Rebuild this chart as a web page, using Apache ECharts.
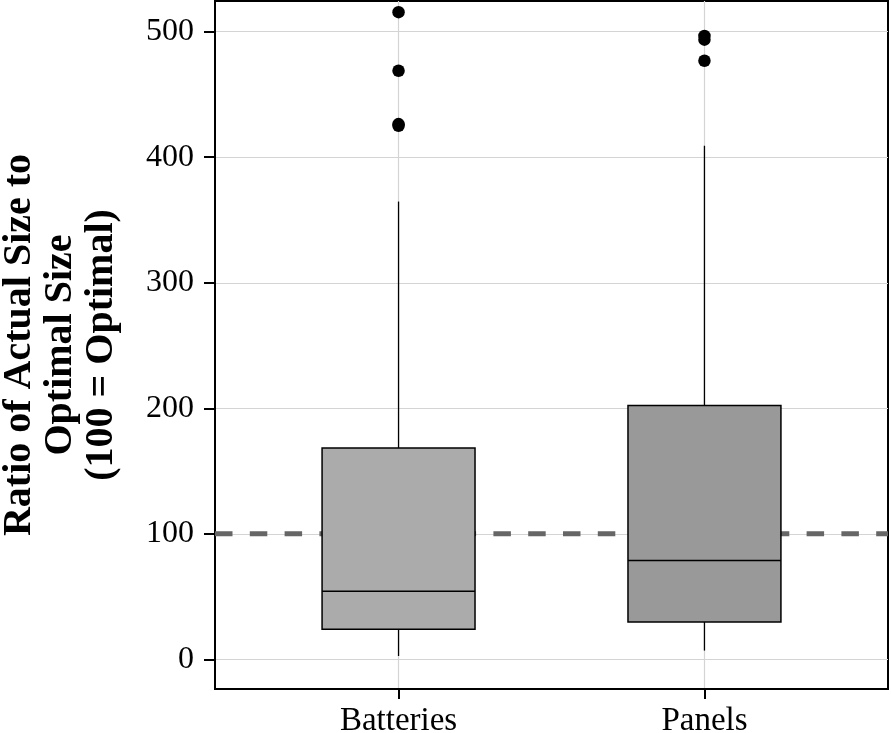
<!DOCTYPE html>
<html>
<head>
<meta charset="utf-8">
<script src="https://cdn.jsdelivr.net/npm/echarts@6/dist/echarts.min.js"></script>
<style>
  html, body { margin: 0; padding: 0; background: #fff; }
  #chart { width: 891px; height: 733px; }
</style>
</head>
<body>
<div id="chart"></div>
<script>
// ---- data ----
const categories = ['Batteries', 'Panels'];
const categoryPositions = [1, 2];
// [min, Q1, median, Q3, max] (whisker ends)
const batteriesStats = [2.6, 23.9, 54.2, 168.4, 364.7];
const panelsStats = [6.9, 29.7, 78.6, 202.1, 409.1];
const batteriesOutliers = [515.6, 468.9, 426.4, 425.0];
const panelsOutliers = [496.6, 493.7, 476.9];
const yTickValues = [0, 100, 200, 300, 400, 500];
const referenceValue = 100;
const boxColors = ['#ABABAB', '#999999'];

const statsList = [batteriesStats, panelsStats];
const boxData = statsList.map((s, i) => [categoryPositions[i]].concat(s));
const outlierData = [];
batteriesOutliers.forEach(v => outlierData.push([categoryPositions[0], v]));
panelsOutliers.forEach(v => outlierData.push([categoryPositions[1], v]));

const chart = echarts.init(document.getElementById('chart'), null, { renderer: 'canvas' });

const serif = 'Liberation Serif, Times New Roman, serif';

const option = {
  animation: false,
  backgroundColor: '#ffffff',
  grid: {
    left: 215, right: 3, top: 1, bottom: 44,
    containLabel: false,
    outerBoundsMode: 'none',
    show: true, borderColor: '#000', borderWidth: 2, backgroundColor: 'transparent'
  },
  xAxis: {
    type: 'value',
    min: 0.4, max: 2.6,
    axisLine: { show: true, onZero: false, lineStyle: { color: '#000', width: 2 } },
    axisTick: { show: true, length: 10, lineStyle: { color: '#000', width: 2 }, customValues: categoryPositions },
    axisLabel: {
      customValues: categoryPositions,
      formatter: v => categories[categoryPositions.indexOf(Math.round(v))] || '',
      fontFamily: serif, fontSize: 33, color: '#000', margin: 16
    },
    splitLine: { show: true, lineStyle: { color: '#d4d4d4', width: 1.2 } }
  },
  yAxis: {
    type: 'value',
    min: -23.7, max: 524.5,
    splitNumber: 5,
    name: 'Ratio of Actual Size to\nOptimal Size\n(100 = Optimal)',
    nameLocation: 'middle',
    nameGap: 93,
    nameTextStyle: { fontFamily: serif, fontSize: 40, fontWeight: 'bold', color: '#000', lineHeight: 41, align: 'center' },
    axisLine: { show: true, onZero: false, lineStyle: { color: '#000', width: 2 } },
    axisTick: { show: true, length: 11, lineStyle: { color: '#000', width: 2 }, customValues: yTickValues },
    axisLabel: { customValues: yTickValues, fontFamily: serif, fontSize: 32, color: '#000', margin: 21 },
    splitLine: { show: true, lineStyle: { color: '#d4d4d4', width: 1.2 } }
  },
  series: [
    {
      type: 'line',
      data: [[0.4, referenceValue], [2.6, referenceValue]],
      symbol: 'none',
      silent: true,
      z: 1,
      lineStyle: { color: '#666666', width: 5, type: [17.5, 17.3], cap: 'butt' }
    },
    {
      type: 'custom',
      z: 2,
      encode: { x: 0, y: [1, 2, 3, 4, 5] },
      data: boxData,
      renderItem: function (params, api) {
        const x = api.value(0);
        const idx = params.dataIndex;
        const pMin = api.coord([x, api.value(1)]);
        const pQ1 = api.coord([x, api.value(2)]);
        const pMed = api.coord([x, api.value(3)]);
        const pQ3 = api.coord([x, api.value(4)]);
        const pMax = api.coord([x, api.value(5)]);
        const w = api.size([0.5, 0])[0];
        const cx = pMed[0];
        const line = { stroke: '#000', lineWidth: 1.3 };
        return {
          type: 'group',
          children: [
            { type: 'line', shape: { x1: cx, y1: pQ3[1], x2: cx, y2: pMax[1] }, style: line },
            { type: 'line', shape: { x1: cx, y1: pQ1[1], x2: cx, y2: pMin[1] }, style: line },
            { type: 'rect', shape: { x: cx - w / 2, y: pQ3[1], width: w, height: pQ1[1] - pQ3[1] },
              style: { fill: boxColors[idx], stroke: '#000', lineWidth: 1.5 } },
            { type: 'line', shape: { x1: cx - w / 2, y1: pMed[1], x2: cx + w / 2, y2: pMed[1] },
              style: { stroke: '#000', lineWidth: 1.5 } }
          ]
        };
      }
    },
    {
      type: 'scatter',
      z: 3,
      data: outlierData,
      symbol: 'circle',
      symbolSize: 12.5,
      itemStyle: { color: '#000', opacity: 1 }
    }
  ]
};
chart.setOption(option);
</script>
</body>
</html>
